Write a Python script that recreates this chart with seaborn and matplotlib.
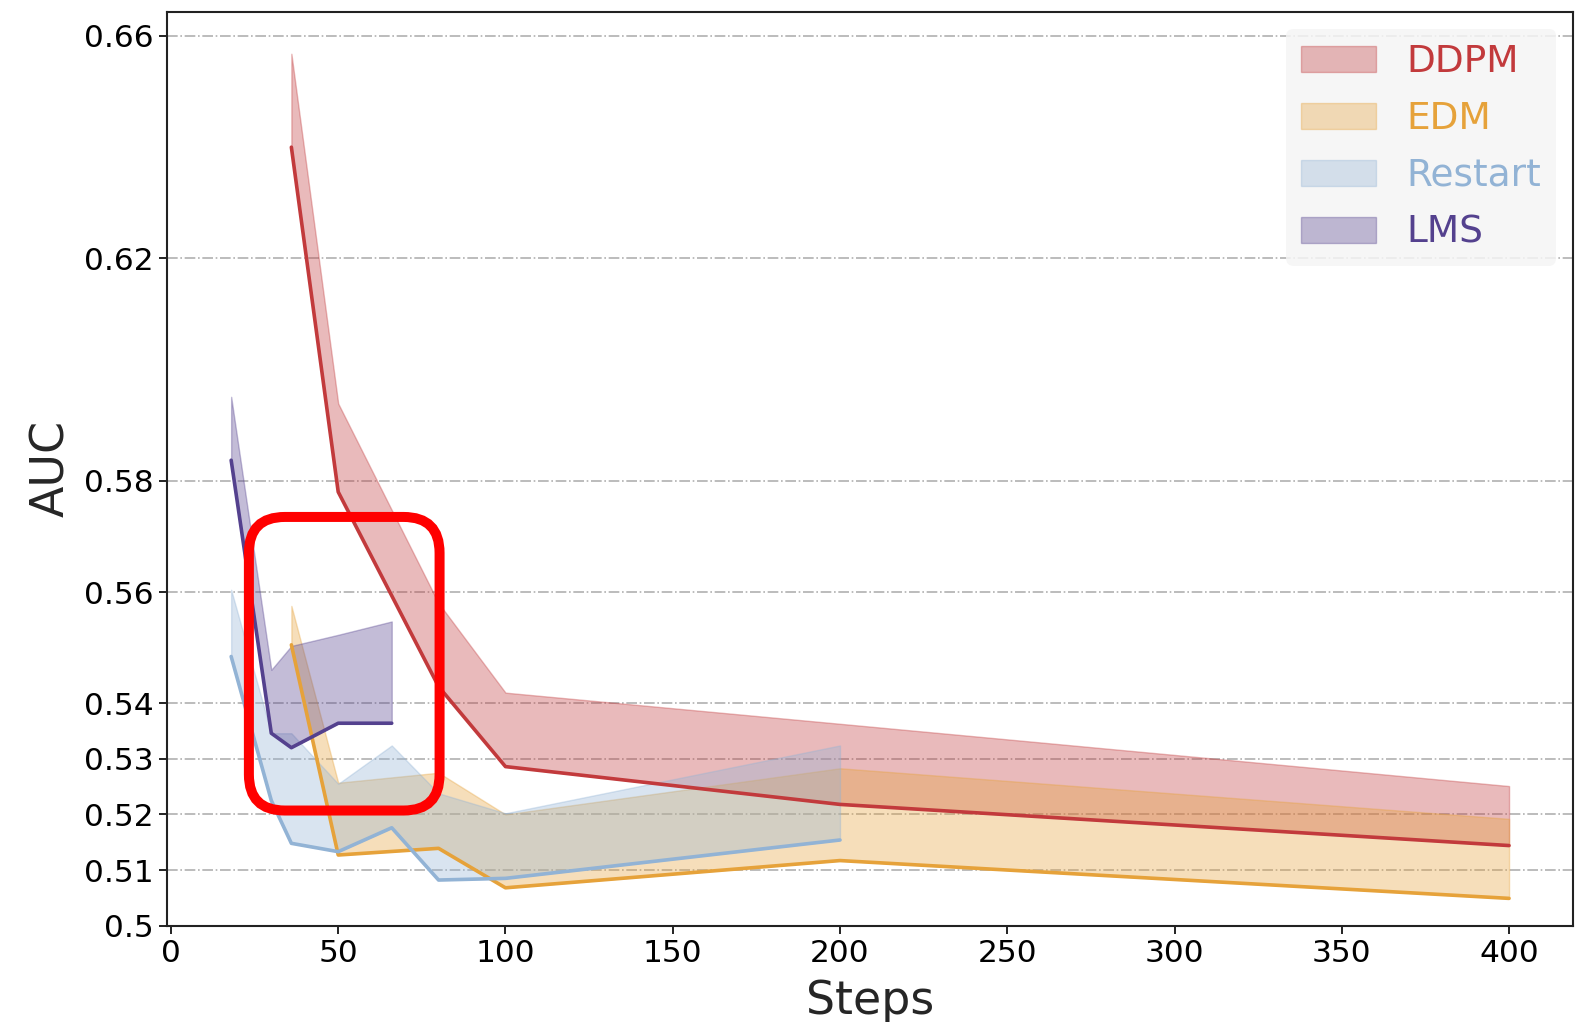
import matplotlib
matplotlib.use("Agg")
import numpy as np
import pandas as pd
import seaborn as sns
import matplotlib.pyplot as plt
from matplotlib.patches import FancyBboxPatch, Patch
from matplotlib.transforms import IdentityTransform

# ---- data -------------------------------------------------------------
METHODS = ["DDPM", "EDM", "Restart", "LMS"]

DDPM_STEPS = [36, 50, 80, 100, 200, 400]
DDPM_AUC = [0.640, 0.578, 0.543, 0.5286, 0.5218, 0.5144]
DDPM_UPPER = [0.6568, 0.5939, 0.558, 0.5419, 0.5363, 0.5251]

EDM_STEPS = [36, 50, 80, 100, 200, 400]
EDM_AUC = [0.5505, 0.5127, 0.5139, 0.5068, 0.5117, 0.5049]
EDM_UPPER = [0.5575, 0.5257, 0.5275, 0.5200, 0.5283, 0.5192]

RESTART_STEPS = [18, 30, 36, 50, 66, 80, 100, 200]
RESTART_AUC = [0.5484, 0.5225, 0.5148, 0.5133, 0.5176, 0.5082, 0.5085, 0.5154]
RESTART_UPPER = [0.5604, 0.5346, 0.5346, 0.5255, 0.5324, 0.5238, 0.5202, 0.5324]

LMS_STEPS = [18, 30, 36, 50, 66]
LMS_AUC = [0.5837, 0.5346, 0.5320, 0.5364, 0.5364]
LMS_UPPER = [0.5951, 0.5460, 0.5503, 0.5523, 0.5547]

Y_TICKS = [0.5, 0.51, 0.52, 0.53, 0.54, 0.56, 0.58, 0.62, 0.66]
Y_TICK_LABELS = ["0.5", "0.51", "0.52", "0.53", "0.54", "0.56", "0.58", "0.62", "0.66"]
X_TICKS = [0, 50, 100, 150, 200, 250, 300, 350, 400]

# highlighted region (steps, AUC)
HIGHLIGHT_STEPS = (23.3, 80.3)
HIGHLIGHT_AUC = (0.5207, 0.5735)

COLORS = {
    "DDPM": "#c23a3c",
    "EDM": "#e6a23a",
    "Restart": "#92b3d5",
    "LMS": "#54418e",
}

series = [
    ("DDPM", DDPM_STEPS, DDPM_AUC, DDPM_UPPER),
    ("EDM", EDM_STEPS, EDM_AUC, EDM_UPPER),
    ("Restart", RESTART_STEPS, RESTART_AUC, RESTART_UPPER),
    ("LMS", LMS_STEPS, LMS_AUC, LMS_UPPER),
]

df = pd.concat(
    [pd.DataFrame({"Steps": s, "AUC": lo, "method": name}) for name, s, lo, _ in series],
    ignore_index=True,
)

# ---- figure -----------------------------------------------------------
sns.set_style("ticks")
plt.rcParams["font.family"] = ["DejaVu Sans"]

fig = plt.figure(figsize=(15.75, 10.22), dpi=100)
ax = fig.add_axes([0.1062, 0.0943, 0.8925, 0.8939])

for name, s, lo, up in series:
    ax.fill_between(s, lo, up, color=COLORS[name], alpha=0.35, lw=1.0, zorder=2)

sns.lineplot(
    data=df, x="Steps", y="AUC", hue="method", hue_order=METHODS,
    palette=COLORS, estimator=None, lw=2.6, legend=False, ax=ax, zorder=3,
)

ax.set_ylim(0.5, 0.6643)
ax.set_yticks(Y_TICKS)
ax.set_yticklabels(Y_TICK_LABELS)
ax.set_xticks(X_TICKS)

ax.set_axisbelow(True)
ax.yaxis.grid(True, linestyle="-.", color="#b0b0b0", lw=1.2)
ax.xaxis.grid(False)

for sp in ax.spines.values():
    sp.set_visible(True)
    sp.set_color("#222222")
    sp.set_linewidth(1.5)

ax.tick_params(axis="both", which="major", labelsize=22.5, length=6, width=1.4,
               direction="out", color="#222222", labelcolor="black")

ax.set_xlabel("Steps", fontsize=33, labelpad=8)
ax.set_ylabel("AUC", fontsize=33, labelpad=7)

handles = [Patch(facecolor=COLORS[m], edgecolor=COLORS[m], alpha=0.35) for m in METHODS]
leg = ax.legend(handles, METHODS, loc="upper right", fontsize=27, frameon=True,
                facecolor="#f5f5f5", edgecolor="none", framealpha=0.85, fancybox=True,
                labelspacing=0.56, borderaxespad=0.45)
for txt, m in zip(leg.get_texts(), METHODS):
    txt.set_color(COLORS[m])

# rounded highlight box around the low-step region
(x0, y0) = ax.transData.transform((HIGHLIGHT_STEPS[0], HIGHLIGHT_AUC[0]))
(x1, y1) = ax.transData.transform((HIGHLIGHT_STEPS[1], HIGHLIGHT_AUC[1]))
box = FancyBboxPatch((x0, y0), x1 - x0, y1 - y0,
                     boxstyle="round,pad=0,rounding_size=36",
                     transform=IdentityTransform(), facecolor="none",
                     edgecolor="#ff0000", linewidth=7.2, zorder=10)
fig.add_artist(box)

fig.savefig("out.png", dpi=100)
